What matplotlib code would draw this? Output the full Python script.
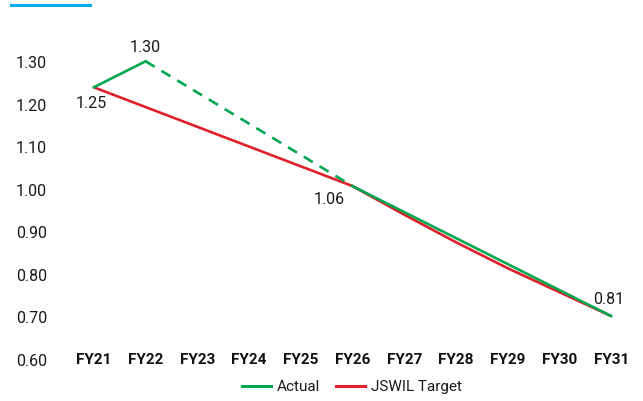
import numpy as np
import matplotlib.pyplot as plt
from matplotlib.lines import Line2D

years = ['FY21', 'FY22', 'FY23', 'FY24', 'FY25', 'FY26',
         'FY27', 'FY28', 'FY29', 'FY30', 'FY31']

# actual intensity: reported points and the bridge to the FY26 milestone
actual_years = ['FY21', 'FY22', 'FY26', 'FY31']
actual_vals = [1.25, 1.30, 1.06, 0.81]

# target glide path
target_vals = [1.25, 1.212, 1.174, 1.136, 1.098, 1.06,
               1.005, 0.952, 0.902, 0.856, 0.81]

ytick_labels = ['0.60', '0.70', '0.80', '0.90', '1.00', '1.10', '1.20', '1.30']

green = '#00a651'
red = '#e0202a'

plt.rcParams['font.family'] = ['Roboto', 'DejaVu Sans']

fig = plt.figure(figsize=(6.43, 4.01), dpi=100)
ax = fig.add_axes([68 / 643, 41 / 401, 569 / 643, 314.3 / 401])

x = np.arange(len(years))
ax_x = [years.index(y) for y in actual_years]

ax.plot(x, target_vals, color=red, lw=1.9, solid_capstyle='butt', zorder=2)

# solid where reported, dashed over the gap years
ax.plot(ax_x[:2], actual_vals[:2], color=green, lw=1.9, zorder=3)
ax.plot(ax_x[1:3], actual_vals[1:3], color=green, lw=1.9,
        dashes=(4, 3), zorder=3)
ax.plot(ax_x[2:], actual_vals[2:], color=green, lw=1.9, zorder=3)

label_offsets = [(-2, -12), (0, 10), (-17, -10), (-2, 12)]
for xi, v, off in zip(ax_x, actual_vals, label_offsets):
    ax.annotate(f'{v:.2f}', (xi, v), xytext=off, textcoords='offset points',
                ha='center', va='center', fontsize=11.5, color='#1a1a1a')

ax.set_xlim(-0.5, len(years) - 0.5)
ax.set_ylim(0.7255, 1.33)

ax.set_yticks(np.linspace(0.7255, 1.2987, len(ytick_labels)))
ax.set_yticklabels(ytick_labels, fontsize=11.5, color='#1a1a1a')
ax.set_xticks(x)
ax.set_xticklabels(years, fontsize=11, fontweight='bold', color='#111111',
                   va='center')
ax.tick_params(axis='y', length=0, pad=15)
ax.tick_params(axis='x', length=0, pad=0)

for s in ax.spines.values():
    s.set_visible(False)

handles = [Line2D([], [], color=green, lw=2.2),
           Line2D([], [], color=red, lw=2.2)]
fig.legend(handles, ['Actual', 'JSWIL Target'], loc='center',
           bbox_to_anchor=(352 / 643, 1 - 387 / 401), ncol=2, frameon=False,
           fontsize=11, handlelength=1.9, handletextpad=0.4,
           columnspacing=1.0, labelcolor='#1a1a1a')

# accent bar at the top-left
fig.add_artist(Line2D([11 / 643, 90 / 643], [1 - 5 / 401, 1 - 5 / 401],
                      transform=fig.transFigure, color='#00aeef', lw=2.2))

fig.savefig('out.png', dpi=100)
